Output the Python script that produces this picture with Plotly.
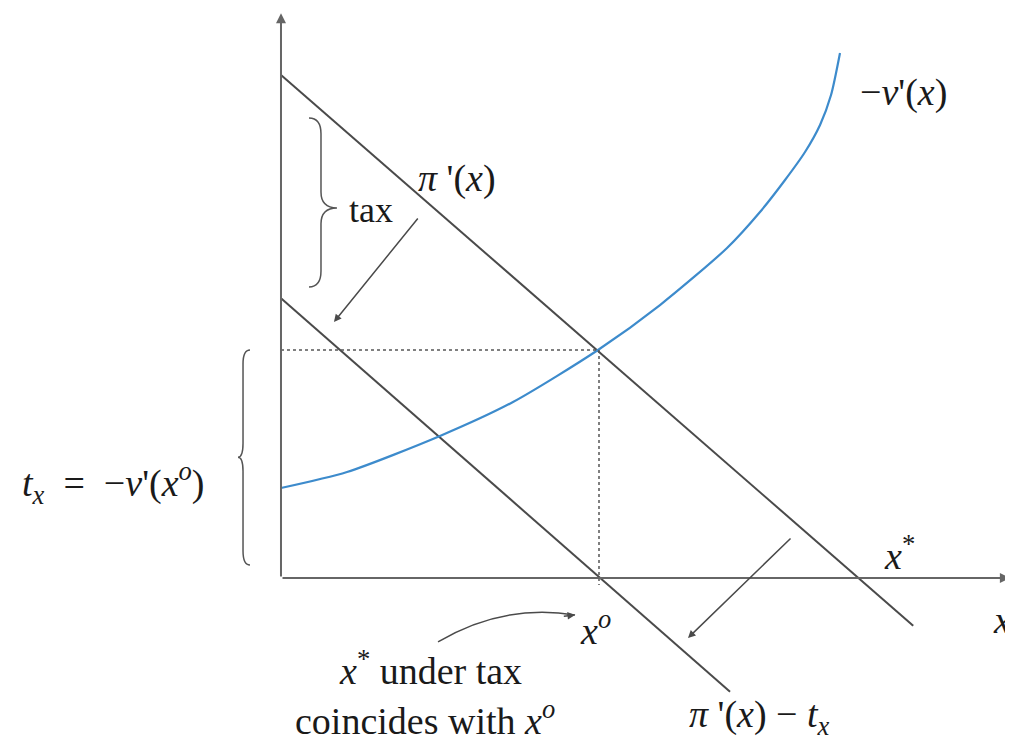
import plotly.graph_objects as go

# ---- data (diagram units: x^o = 5, t_x = 3.585) ----
pi_x = [0.0, 9.94]
pi_y = [7.91, -0.75]

pi_tax_x = [0.0, 7.06]
pi_tax_y = [4.40, -1.79]

v_x = [0.0, 1.038, 2.500, 3.648, 4.984, 5.959, 7.013, 7.531, 7.925, 8.239, 8.475, 8.648, 8.789]
v_y = [1.415, 1.667, 2.233, 2.767, 3.585, 4.292, 5.189, 5.755, 6.258, 6.698, 7.123, 7.594, 8.255]

x_o = 5.0
t_x = 3.585
x_axis_end = 11.46
y_axis_top = 8.88
vline_bottom = -0.11

# page body has an 8px margin; figure is 1005x736 so it fills the 1013x744 window
X_RANGE = [-4.292, 11.509]
Y_RANGE = [-2.610, 8.962]

LINE = "#4a4a4a"
BLUE = "#3d8bcc"
TXT = "#1a1a1a"
FONT = "Liberation Serif, Times New Roman, serif"

fig = go.Figure()

fig.add_trace(go.Scatter(x=pi_x, y=pi_y, mode="lines",
                         line=dict(color=LINE, width=2), hoverinfo="skip"))
fig.add_trace(go.Scatter(x=pi_tax_x, y=pi_tax_y, mode="lines",
                         line=dict(color=LINE, width=2), hoverinfo="skip"))
fig.add_trace(go.Scatter(x=v_x, y=v_y, mode="lines",
                         line=dict(color=BLUE, width=2.2, shape="spline", smoothing=0.7),
                         hoverinfo="skip"))
# dotted guides
fig.add_trace(go.Scatter(x=[0, x_o], y=[t_x, t_x], mode="lines",
                         line=dict(color="#555555", width=1.5, dash="dot"), hoverinfo="skip"))
fig.add_trace(go.Scatter(x=[x_o, x_o], y=[t_x, vline_bottom], mode="lines",
                         line=dict(color="#555555", width=1.5, dash="dot"), hoverinfo="skip"))

# curved arrow from text to x^o
c0 = (2.469, -1.006)
c1 = (3.49, -0.40)
c2 = (4.623, -0.582)
fig.add_shape(type="path",
              path=f"M {c0[0]},{c0[1]} Q {c1[0]},{c1[1]} {c2[0]},{c2[1]}",
              xref="x", yref="y", line=dict(color=LINE, width=1.5))


def brace_path(xs, xtip, xend, y0, y1, ymid, r):
    return (f"M {xend},{y1} Q {xs},{y1} {xs},{y1 - r} L {xs},{ymid + r} "
            f"Q {xs},{ymid} {xtip},{ymid} Q {xs},{ymid} {xs},{ymid - r} "
            f"L {xs},{y0 + r} Q {xs},{y0} {xend},{y0}")


# left brace (t_x)
fig.add_shape(type="path", xref="x", yref="y",
              path=brace_path(-0.597, -0.676, -0.487, 0.204, t_x, 1.90, 0.22),
              line=dict(color="#555555", width=1.5))
# tax brace
fig.add_shape(type="path", xref="x", yref="y",
              path=brace_path(0.629, 0.880, 0.440, 4.575, 7.233, 5.818, 0.25),
              line=dict(color="#555555", width=1.5))

anns = []
# axes with arrows
anns.append(dict(x=x_axis_end, y=0, ax=0, ay=0, xref="x", yref="y", axref="x", ayref="y",
                 showarrow=True, arrowhead=2, arrowsize=1, arrowwidth=2, arrowcolor="#666666", text=""))
anns.append(dict(x=0, y=y_axis_top, ax=0, ay=0, xref="x", yref="y", axref="x", ayref="y",
                 showarrow=True, arrowhead=2, arrowsize=1, arrowwidth=2, arrowcolor="#666666", text=""))
# shift arrows
anns.append(dict(x=0.833, y=4.025, ax=2.170, ay=5.676, xref="x", yref="y", axref="x", ayref="y",
                 showarrow=True, arrowhead=2, arrowsize=1, arrowwidth=1.5, arrowcolor=LINE, text=""))
anns.append(dict(x=6.399, y=-0.943, ax=8.035, ay=0.645, xref="x", yref="y", axref="x", ayref="y",
                 showarrow=True, arrowhead=2, arrowsize=1, arrowwidth=1.5, arrowcolor=LINE, text=""))
# curved arrow head
anns.append(dict(x=c2[0], y=c2[1], ax=c2[0] - 0.2, ay=c2[1] - 0.02, xref="x", yref="y",
                 axref="x", ayref="y", showarrow=True, arrowhead=2, arrowsize=1,
                 arrowwidth=1.5, arrowcolor=LINE, text=""))


def label(x, y, text, size=38, xanchor="center", xref="x"):
    anns.append(dict(x=x, y=y, xref=xref, yref="y", text=text, showarrow=False,
                     xanchor=xanchor, yanchor="middle",
                     font=dict(family=FONT, size=size, color=TXT)))


label(2.767, 6.289, "<i>π</i> '(<i>x</i>)")
label(1.415, 5.786, "tax", size=36)
label(9.78, 7.64, "−<i>v</i>'(<i>x</i>)")
label(-2.64, 1.49, "<i>t<sub>x</sub></i>  =  −<i>v</i>'(<i>x</i><sup><i>o</i></sup>)")
label(4.94, -0.786, "<i>x</i><sup><i>o</i></sup>")
label(9.73, 0.39, "<i>x</i><sup>*</sup>")
label(1.0, -0.66, "<i>x</i>", xanchor="right", xref="paper")
label(2.343, -1.415, "<i>x</i><sup>*</sup> under tax")
label(2.264, -2.20, "coincides with <i>x</i><sup><i>o</i></sup>")
label(7.53, -2.19, "<i>π</i> '(<i>x</i>) − <i>t<sub>x</sub></i>")

fig.update_layout(
    width=1005, height=736,
    margin=dict(l=0, r=0, t=0, b=0),
    paper_bgcolor="white", plot_bgcolor="white",
    showlegend=False,
    xaxis=dict(range=X_RANGE, visible=False, fixedrange=True),
    yaxis=dict(range=Y_RANGE, visible=False, fixedrange=True),
    annotations=anns,
)

fig.write_html("out.html", config={"displayModeBar": False})
